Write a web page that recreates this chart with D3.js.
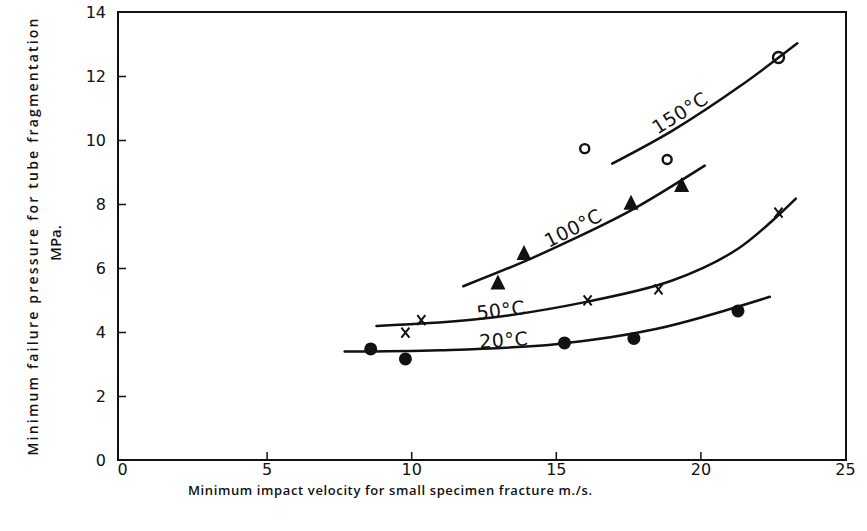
<!DOCTYPE html>
<html>
<head>
<meta charset="utf-8">
<script src="https://cdn.jsdelivr.net/npm/d3@7"></script>
<style>
  body { margin: 0; background: #fff; }
  svg { display: block; }
</style>
</head>
<body>
<div id="chart"></div>
<script>
// readings
const xTicks = [0, 5, 10, 15, 20, 25];
const yTicks = [0, 2, 4, 6, 8, 10, 12, 14];
const temps = ['20°C', '50°C', '100°C', '150°C'];

// measured points (velocity m/s, pressure MPa)
const pts20 = [[8.6, 3.47], [9.8, 3.16], [15.3, 3.66], [17.7, 3.8], [21.3, 4.66]];
const pts50 = [[9.8, 3.98], [10.35, 4.37], [16.1, 4.99], [18.55, 5.33], [22.7, 7.73]];
const pts100 = [[13.0, 5.55], [13.9, 6.47], [17.6, 8.04], [19.35, 8.59]];
const pts150 = [[16.0, 9.73], [18.85, 9.39], [22.7, 12.58]];

// hand-drawn fitted curves
const fit20 = [[7.7, 3.39], [11, 3.43], [15, 3.62], [18.5, 4.1], [22.4, 5.1]];
const fit50 = [[8.8, 4.19], [12.5, 4.42], [16.1, 4.95], [19, 5.6], [21.3, 6.6], [23.3, 8.17]];
const fit100 = [[11.8, 5.43], [13.9, 6.2], [15.6, 6.9], [17.6, 7.8], [20.15, 9.2]];
const fit150 = [[16.95, 9.26], [19.05, 10.3], [21.4, 11.7], [23.35, 13.02]];

const width = 867;
const height = 531;

const svg = d3.select('#chart').append('svg')
  .attr('width', width)
  .attr('height', height);

const x = d3.scaleLinear().domain([0, 25]).range([122, 845]);
const y = d3.scaleLinear().domain([0, 14]).range([460, 12]);

const tickFont = '"DejaVu Sans", sans-serif';
const titleFont = '"Open Sans", sans-serif';

// frame
svg.append('rect')
  .attr('x', 118)
  .attr('y', y(14))
  .attr('width', 846 - 118)
  .attr('height', y(0) - y(14))
  .attr('fill', 'none')
  .attr('stroke', '#111')
  .attr('stroke-width', 2);

const xAxis = svg.append('g')
  .attr('transform', `translate(0,${y(0)})`)
  .call(d3.axisBottom(x).tickValues(xTicks).tickSize(-8).tickPadding(4));

const yAxis = svg.append('g')
  .attr('transform', 'translate(118,0)')
  .call(d3.axisLeft(y).tickValues(yTicks).tickSize(-8).tickPadding(12));

[xAxis, yAxis].forEach(g => {
  g.select('.domain').remove();
  g.selectAll('line').attr('stroke', '#111').attr('stroke-width', 1.5);
  g.selectAll('text')
    .style('font-family', tickFont)
    .style('font-size', '16px')
    .attr('fill', '#111');
});
xAxis.selectAll('.tick').filter(d => d === 0 || d === 25).select('line').remove();
yAxis.selectAll('.tick').filter(d => d === 0 || d === 14).select('line').remove();

// fitted curves
const line = d3.line()
  .x(d => x(d[0]))
  .y(d => y(d[1]))
  .curve(d3.curveCatmullRom.alpha(0.5));

[fit20, fit50, fit100, fit150].forEach(f => {
  svg.append('path')
    .attr('d', line(f))
    .attr('fill', 'none')
    .attr('stroke', '#111')
    .attr('stroke-width', 2.5)
    .attr('stroke-linecap', 'round');
});

// 20°C filled circles
svg.selectAll('.dot20')
  .data(pts20)
  .enter().append('circle')
  .attr('class', 'dot20')
  .attr('cx', d => x(d[0]))
  .attr('cy', d => y(d[1]))
  .attr('r', 6.5)
  .attr('fill', '#111');

// 50°C crosses
svg.selectAll('.cross50')
  .data(pts50)
  .enter().append('path')
  .attr('class', 'cross50')
  .attr('transform', d => `translate(${x(d[0])},${y(d[1])})`)
  .attr('d', 'M-4,-5L4,5M4,-5L-4,5')
  .attr('stroke', '#111')
  .attr('stroke-width', 2)
  .attr('fill', 'none');

// 100°C triangles
svg.selectAll('.tri100')
  .data(pts100)
  .enter().append('path')
  .attr('class', 'tri100')
  .attr('transform', d => `translate(${x(d[0])},${y(d[1])})`)
  .attr('d', 'M0,-8L7.5,7L-7.5,7Z')
  .attr('fill', '#111');

// 150°C open circles
svg.selectAll('.ring150')
  .data(pts150)
  .enter().append('circle')
  .attr('class', 'ring150')
  .attr('cx', d => x(d[0]))
  .attr('cy', d => y(d[1]))
  .attr('r', (d, i) => i === 2 ? 5.5 : 4.5)
  .attr('fill', 'none')
  .attr('stroke', '#111')
  .attr('stroke-width', 2.4);

// curve labels, placed along each fit
const labelSpots = [[13.2, 3.75, -4], [13.1, 4.68, -7], [15.6, 7.25, -27], [19.3, 10.85, -32]];
svg.selectAll('.tlabel')
  .data(temps)
  .enter().append('text')
  .attr('class', 'tlabel')
  .attr('transform', (d, i) => {
    const s = labelSpots[i];
    return `translate(${x(s[0])},${y(s[1])}) rotate(${s[2]})`;
  })
  .attr('text-anchor', 'middle')
  .attr('dy', '0.35em')
  .style('font-family', tickFont)
  .style('font-size', '19px')
  .style('letter-spacing', '0.5px')
  .attr('fill', '#111')
  .text(d => d);

// axis titles
svg.append('text')
  .attr('x', 390)
  .attr('y', 495)
  .attr('text-anchor', 'middle')
  .attr('textLength', 404)
  .attr('lengthAdjust', 'spacing')
  .style('font-family', titleFont)
  .style('font-size', '13px')
  .style('font-weight', 600)
  .attr('fill', '#111')
  .text('Minimum impact velocity  for small specimen fracture m./s.');

svg.append('text')
  .attr('transform', 'translate(38,237) rotate(-90)')
  .attr('text-anchor', 'middle')
  .attr('textLength', 437)
  .attr('lengthAdjust', 'spacing')
  .style('font-family', titleFont)
  .style('font-size', '14px')
  .style('font-weight', 600)
  .attr('fill', '#111')
  .text('Minimum failure pressure for tube fragmentation');

svg.append('text')
  .attr('transform', 'translate(61,243) rotate(-90)')
  .attr('text-anchor', 'middle')
  .style('font-family', titleFont)
  .style('font-size', '15px')
  .style('font-weight', 600)
  .attr('fill', '#111')
  .text('MPa.');
</script>
</body>
</html>
